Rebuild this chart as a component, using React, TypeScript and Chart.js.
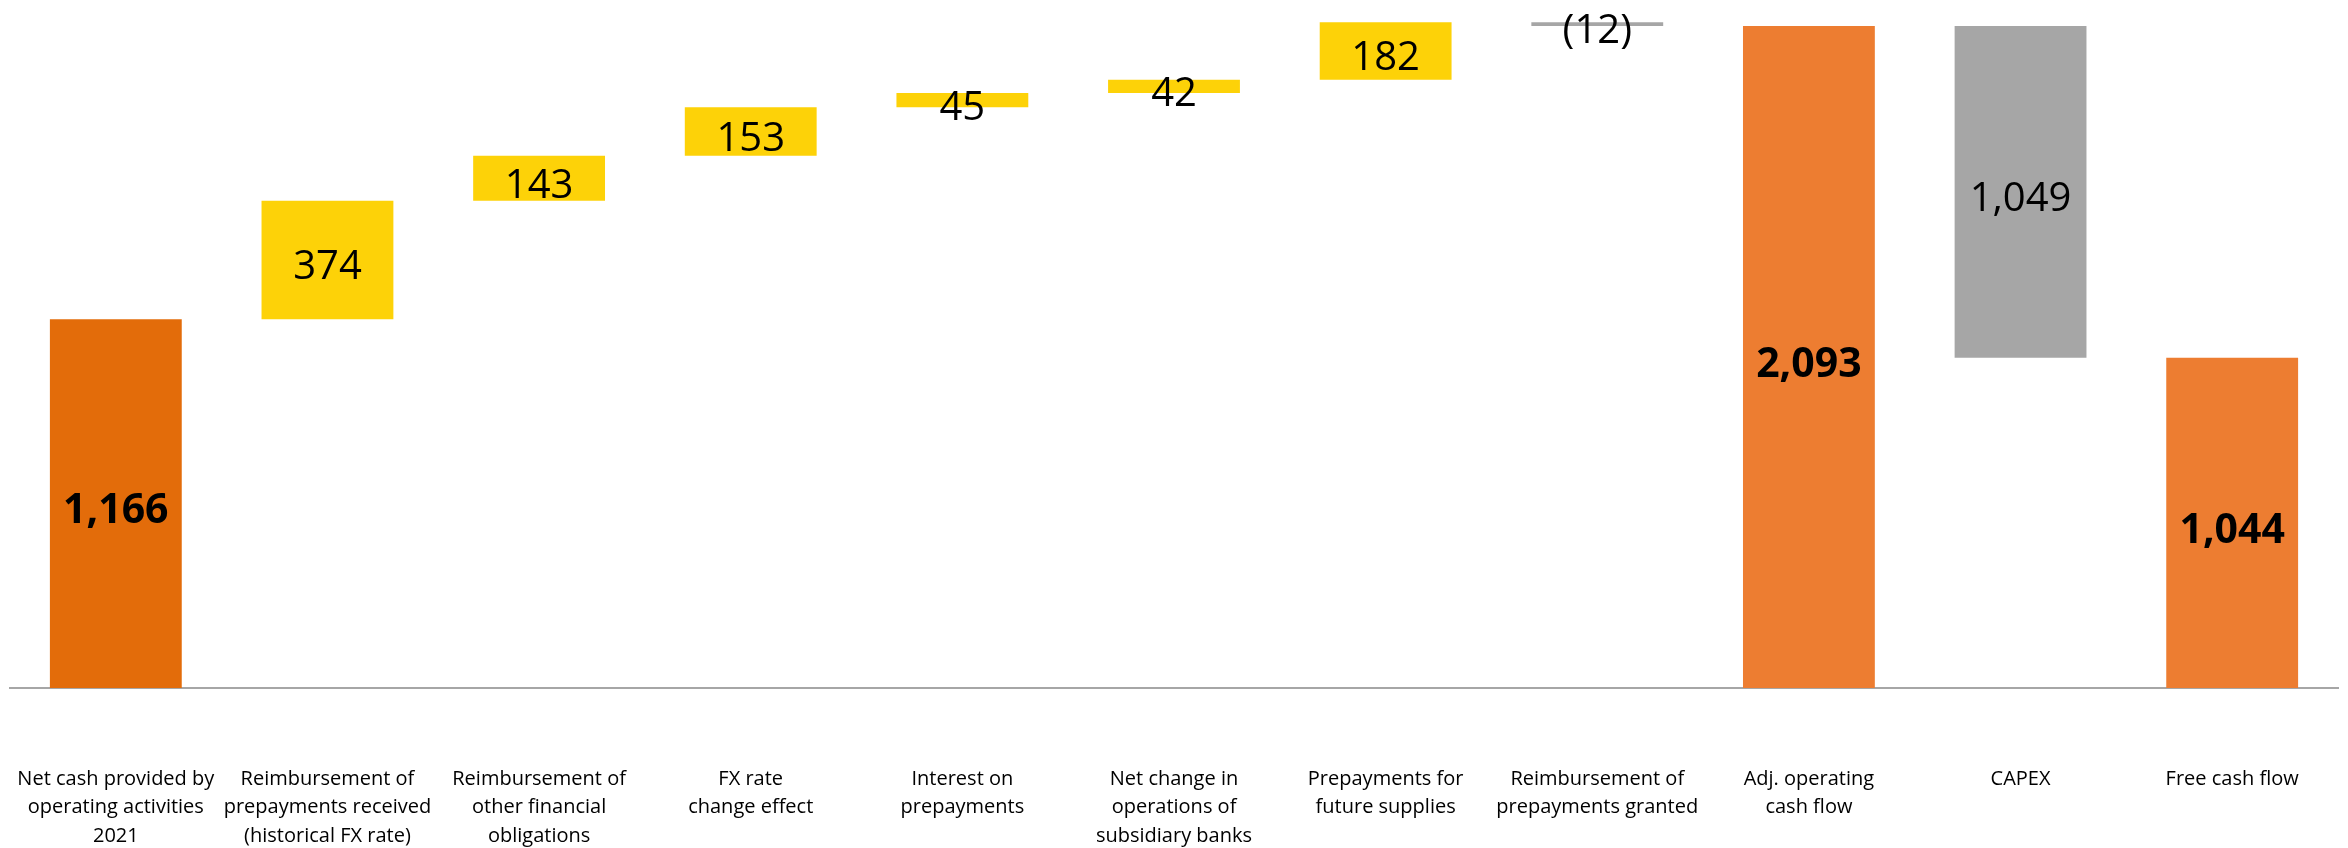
import React, { useEffect, useRef } from "react";
import { Chart, registerables } from "chart.js";

Chart.register(...registerables);

// ---- data ----
const categories: string[][] = [
  ["Net cash provided by", "operating activities", "2021"],
  ["Reimbursement of", "prepayments received", "(historical FX rate)"],
  ["Reimbursement of", "other financial", "obligations"],
  ["FX rate", "change effect"],
  ["Interest on", "prepayments"],
  ["Net change in", "operations of", "subsidiary banks"],
  ["Prepayments for", "future supplies"],
  ["Reimbursement of", "prepayments granted"],
  ["Adj. operating", "cash flow"],
  ["CAPEX"],
  ["Free cash flow"],
];
const values = [1166, 374, 143, 153, 45, 42, 182, -12, 2093, -1049, 1044];
const kinds = ["total", "delta", "delta", "delta", "delta", "delta", "delta", "delta", "total", "delta", "total"];
const valueLabels = ["1,166", "374", "143", "153", "45", "42", "182", "(12)", "2,093", "1,049", "1,044"];
const boldLabels = [true, false, false, false, false, false, false, false, true, false, true];

// ---- styles ----
const COLOR_START = "#E36C0A";
const COLOR_TOTAL = "#ED7D31";
const COLOR_UP = "#FDD208";
const COLOR_DOWN = "#A6A6A6";
const FONT = "'Open Sans', 'Noto Sans', sans-serif";

function buildRanges() {
  let running = 0;
  return values.map((v, i) => {
    if (kinds[i] === "total") {
      running = v;
      return [0, v];
    }
    const r = [running, running + v];
    running += v;
    return r;
  });
}

function buildColors() {
  return values.map((v, i) => {
    if (i === 0) return COLOR_START;
    if (kinds[i] === "total") return COLOR_TOTAL;
    return v >= 0 ? COLOR_UP : COLOR_DOWN;
  });
}

const labelPlugin = {
  id: "barLabels",
  afterDatasetsDraw(chart: any) {
    const ctx = chart.ctx;
    const meta = chart.getDatasetMeta(0);
    ctx.save();
    ctx.fillStyle = "#000";
    ctx.textAlign = "center";
    ctx.textBaseline = "middle";
    meta.data.forEach((el: any, i: number) => {
      const props = el.getProps(["x", "y", "base"], true);
      const cy = (props.y + props.base) / 2 + 8;
      ctx.font = boldLabels[i] ? `bold 41px ${FONT}` : `40px ${FONT}`;
      ctx.fillText(valueLabels[i], props.x, cy);
    });
    ctx.restore();
  },
};

export default function App() {
  const ref = useRef<HTMLCanvasElement | null>(null);
  useEffect(() => {
    document.body.style.margin = "0";
    if (!ref.current) return;
    const chart = new Chart(ref.current, {
      type: "bar",
      data: {
        labels: categories,
        datasets: [
          {
            data: buildRanges() as any,
            backgroundColor: buildColors(),
            borderWidth: 0,
            barPercentage: 0.623,
            categoryPercentage: 1,
          },
        ],
      },
      options: {
        responsive: false,
        animation: false,
        layout: { padding: { left: 10, right: 10, top: 0, bottom: 0 } },
        plugins: { legend: { display: false }, tooltip: { enabled: false } },
        scales: {
          y: { display: false, min: 0, max: 2175 },
          x: {
            grid: { display: false, drawTicks: false },
            border: { display: true, color: "#A6A6A6", width: 2 },
            ticks: {
              color: "#000",
              font: { family: FONT, size: 20, lineHeight: 1.425 },
              padding: 77,
              maxRotation: 0,
              minRotation: 0,
              autoSkip: false,
            },
            afterFit(scale: any) {
              scale.height = 160;
              scale.paddingLeft = 0;
              scale.paddingRight = 0;
            },
          },
        },
      },
      plugins: [labelPlugin],
    });
    return () => chart.destroy();
  }, []);
  return (
    <div style={{ width: 2348, height: 848 }}>
      <canvas ref={ref} width={2348} height={848} style={{ display: "block" }} />
    </div>
  );
}
